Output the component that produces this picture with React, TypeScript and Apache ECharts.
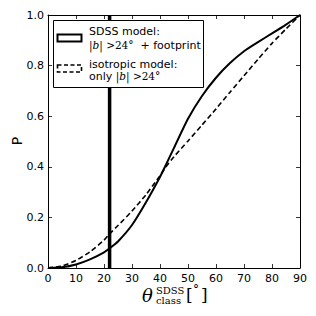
import React, { useEffect, useRef } from "react";
import * as echarts from "echarts";

const thetaDeg = [0, 5, 10, 15, 20, 22, 25, 30, 35, 40, 42, 45, 50, 55, 60, 65, 70, 75, 80, 85, 90];
const sdssModel = [0, 0.003, 0.014, 0.034, 0.062, 0.078, 0.105, 0.17, 0.26, 0.36, 0.405, 0.475, 0.59, 0.68, 0.752, 0.81, 0.857, 0.893, 0.927, 0.962, 1.0];
const isoModel = [0, 0.008, 0.03, 0.064, 0.11, 0.135, 0.168, 0.225, 0.29, 0.365, 0.398, 0.44, 0.502, 0.565, 0.629, 0.695, 0.76, 0.825, 0.888, 0.945, 1.0];
const cutTheta = 22;
const cutRange = [0, 1];
const xTicks = { min: 0, max: 90, interval: 10 };
const yTicks = { min: 0, max: 1, interval: 0.2 };

const SANS = "DejaVu Sans";
const SERIF = "DejaVu Serif";

export default function App() {
  const ref = useRef<HTMLDivElement>(null);
  useEffect(() => {
    if (!ref.current) return;
    const chart = echarts.init(ref.current, undefined, { renderer: "svg" });
    const axisCommon = {
      type: "value" as const,
      axisLine: { show: true, onZero: false, lineStyle: { color: "#000", width: 1 } },
      axisTick: { show: true, inside: true, length: 4, lineStyle: { color: "#000", width: 0.8 } },
      splitLine: { show: false },
    };
    chart.setOption({
      animation: false,
      backgroundColor: "#fff",
      grid: { left: 48, top: 15, right: 16, bottom: 48, containLabel: false },
      xAxis: [
        {
          ...axisCommon,
          position: "bottom",
          min: xTicks.min,
          max: xTicks.max,
          interval: xTicks.interval,
          axisLabel: { color: "#000", fontFamily: SANS, fontSize: 11, margin: 5 },
        },
        {
          ...axisCommon,
          position: "top",
          min: xTicks.min,
          max: xTicks.max,
          interval: xTicks.interval,
          axisLabel: { show: false },
        },
      ],
      yAxis: [
        {
          ...axisCommon,
          position: "left",
          min: yTicks.min,
          max: yTicks.max,
          interval: yTicks.interval,
          axisLabel: {
            color: "#000",
            fontFamily: SANS,
            fontSize: 11,
            margin: 4,
            formatter: (v: number) => v.toFixed(1),
          },
        },
        {
          ...axisCommon,
          position: "right",
          min: yTicks.min,
          max: yTicks.max,
          interval: yTicks.interval,
          axisLabel: { show: false },
        },
      ],
      series: [
        {
          type: "line",
          name: "isotropic",
          data: thetaDeg.map((t, i) => [t, isoModel[i]]),
          smooth: 0.2,
          symbol: "none",
          lineStyle: { color: "#000", width: 1.6, type: [5, 3] },
          z: 3,
        },
        {
          type: "line",
          name: "SDSS",
          data: thetaDeg.map((t, i) => [t, sdssModel[i]]),
          smooth: 0.2,
          symbol: "none",
          lineStyle: { color: "#000", width: 2 },
          z: 4,
        },
        {
          type: "line",
          name: "cut",
          data: cutRange.map((p) => [cutTheta, p]),
          symbol: "none",
          lineStyle: { color: "#000", width: 3.5 },
          z: 5,
        },
      ],
      graphic: [
        {
          type: "rect",
          z: 100,
          shape: { x: 53.5, y: 20.5, width: 150, height: 67 },
          style: { fill: "#fff", stroke: "#000", lineWidth: 1 },
        },
        {
          type: "rect",
          z: 101,
          shape: { x: 57.5, y: 34.5, width: 24, height: 7 },
          style: { fill: "#fff", stroke: "#000", lineWidth: 2 },
        },
        {
          type: "rect",
          z: 101,
          shape: { x: 57.5, y: 65, width: 24, height: 7 },
          style: { fill: "#fff", stroke: "#000", lineWidth: 1.6, lineDash: [4, 2.5] },
        },
        {
          type: "text",
          z: 101,
          x: 89,
          y: 31.5,
          style: { text: "SDSS model:", fill: "#000", font: `11px '${SANS}'`, verticalAlign: "middle" },
        },
        {
          type: "text",
          z: 101,
          x: 89,
          y: 45,
          style: {
            text: "{m||}{mi|b}{m|| >24°}{s|  + footprint}",
            verticalAlign: "middle",
            rich: {
              m: { fontFamily: SERIF, fontSize: 10.5, fill: "#000" },
              mi: { fontFamily: SERIF, fontStyle: "italic", fontSize: 10.5, fill: "#000" },
              s: { fontFamily: SANS, fontSize: 11, fill: "#000" },
            },
          },
        },
        {
          type: "text",
          z: 101,
          x: 89,
          y: 64,
          style: { text: "isotropic model:", fill: "#000", font: `11px '${SANS}'`, verticalAlign: "middle" },
        },
        {
          type: "text",
          z: 101,
          x: 89,
          y: 76,
          style: {
            text: "{s|only }{m||}{mi|b}{m|| >24°}",
            verticalAlign: "middle",
            rich: {
              m: { fontFamily: SERIF, fontSize: 10.5, fill: "#000" },
              mi: { fontFamily: SERIF, fontStyle: "italic", fontSize: 10.5, fill: "#000" },
              s: { fontFamily: SANS, fontSize: 11, fill: "#000" },
            },
          },
        },
        {
          type: "text",
          x: 17,
          y: 141,
          rotation: Math.PI / 2,
          style: { text: "P", fill: "#000", font: `14px '${SANS}'`, align: "center", verticalAlign: "middle" },
        },
        {
          type: "text",
          x: 142,
          y: 295,
          style: { text: "θ", fill: "#000", font: `italic 18px '${SERIF}'`, verticalAlign: "middle" },
        },
        {
          type: "text",
          x: 156,
          y: 290,
          style: { text: "SDSS", fill: "#000", font: `10px '${SERIF}'`, verticalAlign: "middle" },
        },
        {
          type: "text",
          x: 156,
          y: 300,
          style: { text: "class", fill: "#000", font: `10px '${SERIF}'`, verticalAlign: "middle" },
        },
        {
          type: "text",
          x: 186,
          y: 295,
          style: { text: "[", fill: "#000", font: `17px '${SERIF}'`, verticalAlign: "middle" },
        },
        {
          type: "text",
          x: 193,
          y: 290,
          style: { text: "°", fill: "#000", font: `12px '${SERIF}'`, verticalAlign: "middle" },
        },
        {
          type: "text",
          x: 201,
          y: 295,
          style: { text: "]", fill: "#000", font: `17px '${SERIF}'`, verticalAlign: "middle" },
        },
      ],
    });
    return () => chart.dispose();
  }, []);
  return <div ref={ref} style={{ width: 316, height: 316, position: "absolute", left: 0, top: 0 }} />;
}
